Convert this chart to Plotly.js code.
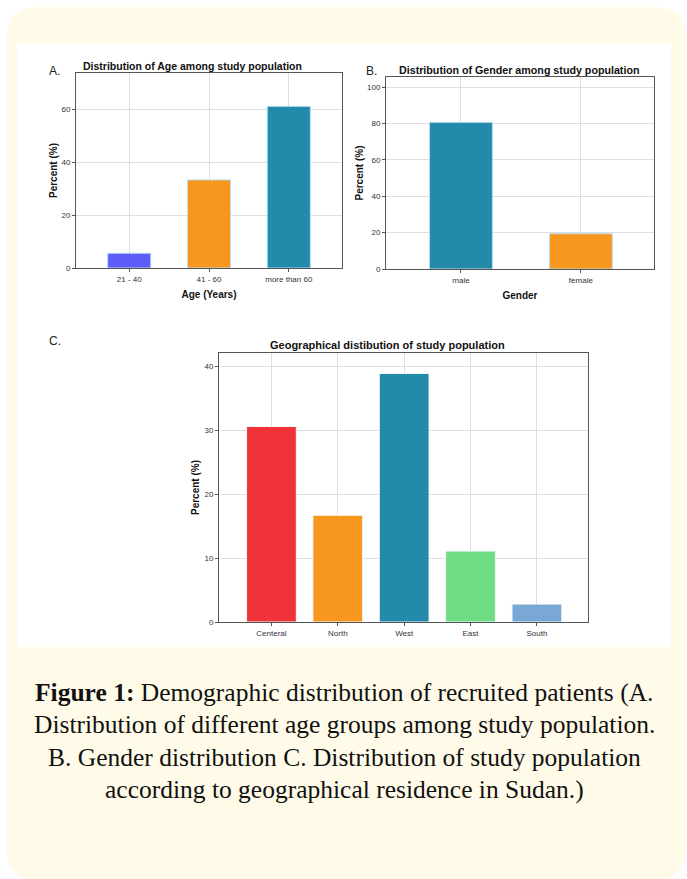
<!DOCTYPE html>
<html>
<head>
<meta charset="utf-8">
<script src="https://cdn.plot.ly/plotly-3.0.1.min.js"></script>
<style>
html,body{margin:0;padding:0;background:#ffffff;}
#chart{width:687px;height:879px;}
</style>
</head>
<body>
<div id="chart"></div>
<script>
// ---- Data ----
const ageCategories = ["21 - 40", "41 - 60", "more than 60"];
const agePercent = [5.6, 33.3, 61.1];
const ageColors = ["#5c5cfb", "#f7971e", "#238aaa"];

const genderCategories = ["male", "female"];
const genderPercent = [80.6, 19.4];
const genderColors = ["#238aaa", "#f7971e"];

const regionCategories = ["Centeral", "North", "West", "East", "South"];
const regionPercent = [30.6, 16.7, 38.9, 11.1, 2.8];
const regionColors = ["#ef3339", "#f7971e", "#238aaa", "#6fdb82", "#79a8d6"];

const titleA = "Distribution of Age among study population";
const titleB = "Distribution of Gender among study population";
const titleC = "Geographical distibution of study population";
const captionLines = [
  "<b>Figure 1:</b> Demographic distribution of recruited patients (A.",
  "Distribution of different age groups among study population.",
  "B. Gender distribution C. Distribution of study population",
  "according to geographical residence in Sudan.)"
];

// ---- Layout helpers ----
const W = 687, H = 879;
const px = v => v / W;
const py = v => 1 - v / H;

const axisFont = {family: "Liberation Sans, Arial, sans-serif", size: 8, color: "#333"};
const boldFont = (s) => ({family: "Liberation Sans, Arial, sans-serif", size: s, color: "#111", weight: "bold"});

function xAxis(l, r, range, title, anchor) {
  return {
    domain: [px(l), px(r)], range: range, type: "category", anchor: anchor,
    showline: true, mirror: true, linecolor: "#555", linewidth: 1,
    showgrid: true, gridcolor: "#dedede", gridwidth: 1,
    ticks: "outside", ticklen: 3, tickcolor: "#555",
    tickfont: axisFont, zeroline: false, fixedrange: true,
    title: title ? {text: "<b>" + title + "</b>", font: boldFont(10), standoff: 8} : {text: ""}
  };
}
function yAxis(t, b, range, dtick, anchor, standoff) {
  return {
    domain: [py(b), py(t)], range: range, dtick: dtick, tick0: 0, anchor: anchor,
    showline: true, mirror: true, linecolor: "#555", linewidth: 1,
    showgrid: true, gridcolor: "#dedede", gridwidth: 1,
    ticks: "outside", ticklen: 3, tickcolor: "#555",
    tickfont: axisFont, zeroline: false, fixedrange: true,
    title: {text: "<b>Percent (%)</b>", font: boldFont(10), standoff: standoff}
  };
}

const barLine = {color: "#b9e0f2", width: 1};

const data = [
  {type: "bar", x: ageCategories, y: agePercent, xaxis: "x", yaxis: "y", width: 0.54,
   marker: {color: ageColors, line: barLine}, hoverinfo: "x+y", showlegend: false},
  {type: "bar", x: genderCategories, y: genderPercent, xaxis: "x2", yaxis: "y2", width: 0.525,
   marker: {color: genderColors, line: barLine}, hoverinfo: "x+y", showlegend: false},
  {type: "bar", x: regionCategories, y: regionPercent, xaxis: "x3", yaxis: "y3", width: 0.75,
   marker: {color: regionColors, line: {color: "#f3f8fb", width: 1}}, hoverinfo: "x+y", showlegend: false}
];

// rounded card path in paper coords
function roundRect(x0, y0, x1, y1, r) {
  const X = v => (v / W).toFixed(5), Y = v => (1 - v / H).toFixed(5);
  return `M ${X(x0 + r)},${Y(y0)} L ${X(x1 - r)},${Y(y0)} Q ${X(x1)},${Y(y0)} ${X(x1)},${Y(y0 + r)} ` +
         `L ${X(x1)},${Y(y1 - r)} Q ${X(x1)},${Y(y1)} ${X(x1 - r)},${Y(y1)} ` +
         `L ${X(x0 + r)},${Y(y1)} Q ${X(x0)},${Y(y1)} ${X(x0)},${Y(y1 - r)} ` +
         `L ${X(x0)},${Y(y0 + r)} Q ${X(x0)},${Y(y0)} ${X(x0 + r)},${Y(y0)} Z`;
}

const shapes = [
  {type: "path", xref: "paper", yref: "paper", path: roundRect(7, 7, 685, 880, 30),
   fillcolor: "#fffbe8", line: {width: 0}, layer: "below"},
  {type: "rect", xref: "paper", yref: "paper", x0: px(17), x1: px(671), y0: py(647), y1: py(43),
   fillcolor: "#ffffff", line: {width: 0}, layer: "below"}
];

const ann = (text, x, y, font, xanchor) => ({
  text: text, x: px(x), y: py(y), xref: "paper", yref: "paper",
  xanchor: xanchor || "center", yanchor: "middle", showarrow: false, font: font
});

const letterFont = {family: "Liberation Sans, Arial, sans-serif", size: 12, color: "#222"};
const titleFont = (s) => ({family: "Liberation Sans, Arial, sans-serif", size: s, color: "#111", weight: "bold"});
const capFont = {family: "Liberation Serif, serif", size: 25.5, color: "#111"};

const annotations = [
  ann("A.", 47, 71, letterFont, "left"),
  ann("B.", 364, 71, letterFont, "left"),
  ann("C.", 47, 341, letterFont, "left"),
  ann("<b>" + titleA + "</b>", 192, 66, titleFont(10.5)),
  ann("<b>" + titleB + "</b>", 519, 70, titleFont(10.7)),
  ann("<b>" + titleC + "</b>", 387, 345, titleFont(11)),
  ann(captionLines[0], 344, 692, capFont),
  ann(captionLines[1], 344, 724, capFont),
  ann(captionLines[2], 344, 757, capFont),
  ann(captionLines[3], 344, 789, capFont)
];

const layout = {
  width: W, height: H,
  margin: {l: 0, r: 0, t: 0, b: 0},
  paper_bgcolor: "#ffffff", plot_bgcolor: "#ffffff",
  showlegend: false,
  bargap: 0,
  xaxis: xAxis(76, 342, [-0.667, 2.667], "Age (Years)", "y"),
  yaxis: yAxis(73, 268, [0, 73.7], 20, "x", 1),
  xaxis2: xAxis(386, 654, [-0.625, 1.61], "Gender", "y2"),
  yaxis2: yAxis(77, 269, [0, 105.5], 20, "x2", 1),
  xaxis3: xAxis(219, 588, [-0.79, 4.77], "", "y3"),
  yaxis3: yAxis(353, 622, [0, 42.1], 10, "x3", 2),
  shapes: shapes,
  annotations: annotations
};

Plotly.newPlot("chart", data, layout, {displayModeBar: false, staticPlot: true});
</script>
</body>
</html>
